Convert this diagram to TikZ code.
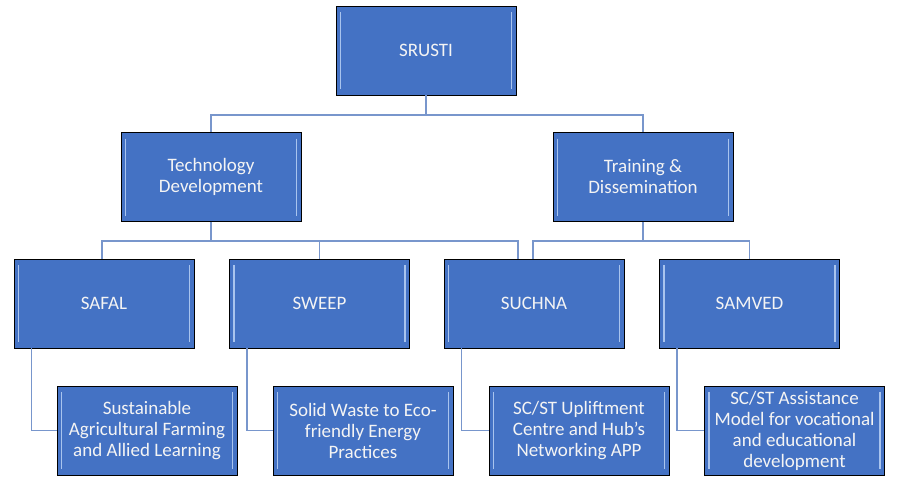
\documentclass[tikz,border=0pt]{standalone}
\usepackage{fontspec}
\setmainfont{Carlito}
\usetikzlibrary{positioning}

\definecolor{boxblue}{HTML}{4472C4}
\definecolor{bevel}{HTML}{A9C4EE}
\definecolor{linkline}{HTML}{7896CC}
\definecolor{boxtext}{HTML}{F4F4F4}

\begin{document}
\begin{tikzpicture}
    [
        x=1pt, y=-1pt,
        unit/.style={rectangle, draw=black, fill=boxblue, line width=0.9pt,
            minimum width=180pt, minimum height=89pt, inner sep=2pt,
            text=boxtext, align=center, font=\fontsize{19}{21}\selectfont,
            path picture={
                \draw[bevel, line width=1.6pt]
                    ([xshift=4.5pt,yshift=-6pt]path picture bounding box.north west) --
                    ([xshift=4.5pt,yshift=6pt]path picture bounding box.south west);
                \draw[bevel, line width=1.6pt]
                    ([xshift=-4.5pt,yshift=-6pt]path picture bounding box.north east) --
                    ([xshift=-4.5pt,yshift=6pt]path picture bounding box.south east);
            }},
        link/.style={draw=linkline, line width=1.6pt},
    ]
    \useasboundingbox (0,0) rectangle (897,491);

    % top level
    \node (srusti) at (426,50.5) [unit] {SRUSTI};

    % second level
    \node (techdev) at (211,177) [unit] {Technology\\Development};
    \node (training) at (643,177) [unit] {Training \&\\Dissemination};

    % schemes
    \node (safal) at (104,303.5) [unit] {SAFAL};
    \node (sweep) at (319.5,303.5) [unit] {SWEEP};
    \node (suchna) at (534,303.5) [unit] {SUCHNA};
    \node (samved) at (749.5,303.5) [unit] {SAMVED};

    % scheme details
    \node (safalsub) at (147,430.5) [unit] {Sustainable\\Agricultural Farming\\and Allied Learning};
    \node (sweepsub) at (363,430.5) [unit] {Solid Waste to Eco-\\friendly Energy\\Practices};
    \node (suchnasub) at (579,430.5) [unit] {SC/ST Upliftment\\Centre and Hub's\\Networking APP};
    \node (samvedsub) at (794.5,430.5) [unit] {SC/ST Assistance\\Model for vocational\\and educational\\development};

    % bars
    \coordinate (topbar) at (426,115);
    \coordinate (techbar) at (211,241);
    \coordinate (trainbar) at (643,241);

    % connectors
    \draw[link] (srusti.south) -- (topbar) -| (techdev.north);
    \draw[link] (topbar) -| (training.north);
    \draw[link] (techdev.south) -- (techbar) -| ([xshift=-2pt]safal.north);
    \draw[link] (techbar) -| (sweep.north);
    \draw[link] (techbar) -| ([xshift=-16pt]suchna.north);
    \draw[link] (training.south) -- (trainbar) -| ([xshift=-1pt]suchna.north);
    \draw[link] (trainbar) -| (samved.north);
    \draw[link] ([xshift=18pt]safal.south west) |- (safalsub.west);
    \draw[link] ([xshift=18pt]sweep.south west) |- (sweepsub.west);
    \draw[link] ([xshift=18pt]suchna.south west) |- (suchnasub.west);
    \draw[link] ([xshift=18pt]samved.south west) |- (samvedsub.west);
\end{tikzpicture}
\end{document}
